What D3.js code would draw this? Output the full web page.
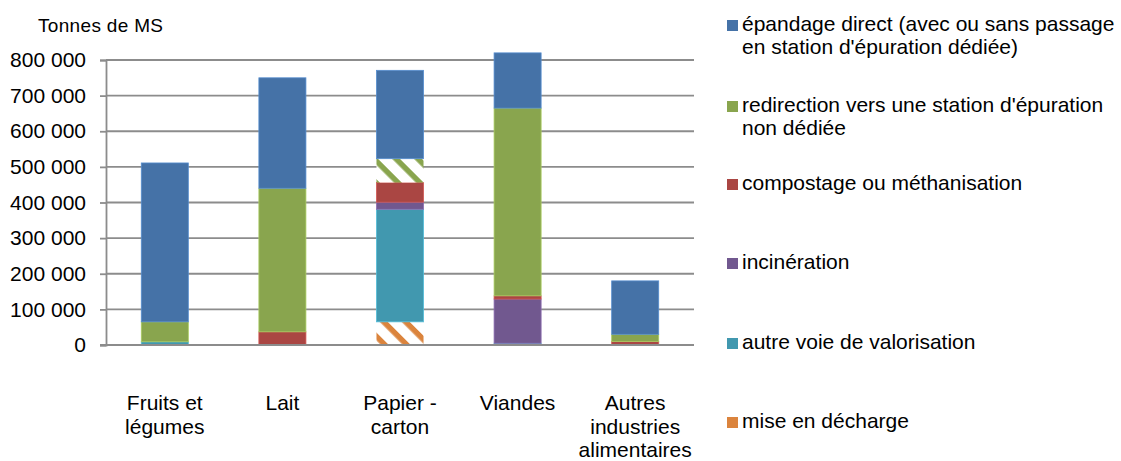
<!DOCTYPE html>
<html><head><meta charset="utf-8">
<script src="https://cdn.jsdelivr.net/npm/d3@7"></script>
<style>
body{margin:0;background:#fff;}
svg text{font-family:"Liberation Sans",Arial,sans-serif;fill:#000;}
</style></head>
<body>
<svg id="chart" width="1121" height="461"></svg>
<script>
const categories = ["Fruits et légumes", "Lait", "Papier - carton", "Viandes", "Autres industries alimentaires"];
const categoryLabels = [["Fruits et", "légumes"], ["Lait"], ["Papier -", "carton"], ["Viandes"], ["Autres", "industries", "alimentaires"]];
// Stack order, bottom to top
const seriesNames = ["mise en décharge", "autre voie de valorisation", "incinération", "compostage ou méthanisation", "redirection vers une station d'épuration non dédiée", "épandage direct (avec ou sans passage en station d'épuration dédiée)"];
const miseEnDecharge = [0, 0, 65000, 0, 0];
const autreVoie = [9000, 0, 316000, 5000, 0];
const incineration = [0, 0, 20000, 124000, 0];
const compostage = [0, 37000, 55000, 9000, 10000];
const redirection = [56000, 403000, 67000, 527000, 20000];
const epandage = [446000, 310000, 248000, 155000, 150000];
const seriesValues = [miseEnDecharge, autreVoie, incineration, compostage, redirection, epandage];
// Hatched (uncertain) cells: [series index, category index]
const hatchedCells = [[0, 2], [4, 2]];
const yTicks = [0, 100000, 200000, 300000, 400000, 500000, 600000, 700000, 800000];
const legendLines = [
  ["épandage direct (avec ou sans passage", "en station d'épuration dédiée)"],
  ["redirection vers une station d'épuration", "non dédiée"],
  ["compostage ou méthanisation"],
  ["incinération"],
  ["autre voie de valorisation"],
  ["mise en décharge"]
];
const colors = ["#DB843D", "#4198AF", "#71588F", "#AA4643", "#89A54E", "#4572A7"];

const svg = d3.select("#chart");
const x0 = 106, x1 = 694, yTop = 60, yBot = 345;
const x = d3.scaleBand().domain(categories).range([x0, x1]).paddingInner(0.6).paddingOuter(0.3);
const y = d3.scaleLinear().domain([0, 800000]).range([yBot, yTop]);

// patterns
const defs = svg.append("defs");
colors.forEach((c, i) => {
  const p = defs.append("pattern").attr("id", "hatch" + i).attr("patternUnits", "userSpaceOnUse")
    .attr("width", 15.5).attr("height", 15.5).attr("patternTransform", "rotate(45)");
  p.append("rect").attr("width", 15.5).attr("height", 15.5).attr("fill", "#fff");
  p.append("rect").attr("x", 0).attr("y", 0).attr("width", 15.5).attr("height", 5.5).attr("fill", c);
});

// gridlines
svg.append("g").selectAll("line").data(yTicks).join("line")
  .attr("x1", x0).attr("x2", x1).attr("y1", d => y(d)).attr("y2", d => y(d))
  .attr("stroke", "#8c8c8c").attr("stroke-width", 1.8);

// y axis
const yAxis = d3.axisLeft(y).tickValues(yTicks).tickSize(6).tickPadding(14)
  .tickFormat(d => d3.format(",")(d).replace(/,/g, " "));
const ga = svg.append("g").attr("transform", `translate(${x0},0)`).call(yAxis);
ga.select(".domain").attr("stroke", "#8c8c8c").attr("stroke-width", 1.8);
ga.selectAll(".tick line").attr("stroke", "#8c8c8c").attr("stroke-width", 1.8);
ga.selectAll(".tick text").attr("font-size", 21).attr("fill", "#000").attr("font-family", "Liberation Sans, Arial, sans-serif");

// stacks
const table = categories.map((c, j) => {
  const o = {cat: c};
  seriesNames.forEach((s, i) => o[s] = seriesValues[i][j]);
  return o;
});
const stacked = d3.stack().keys(seriesNames)(table);
const isHatched = (i, j) => hatchedCells.some(h => h[0] === i && h[1] === j);
stacked.forEach((layer, i) => {
  svg.append("g").selectAll("rect").data(layer).join("rect")
    .attr("x", d => x(d.data.cat))
    .attr("width", x.bandwidth())
    .attr("y", d => y(d[1]))
    .attr("height", d => Math.max(0, y(d[0]) - y(d[1])))
    .attr("fill", (d, j) => isHatched(i, j) ? `url(#hatch${i})` : colors[i])
    .attr("stroke", (d, j) => isHatched(i, j) ? "none" : d3.color(colors[i]).brighter(0.6))
    .attr("stroke-width", 0.8)
    .attr("display", d => d[1] - d[0] > 0 ? null : "none");
});

// x axis line
svg.append("line").attr("x1", x0 - 6).attr("x2", x1).attr("y1", yBot).attr("y2", yBot)
  .attr("stroke", "#8c8c8c").attr("stroke-width", 1.8);

// x labels
categories.forEach((c, j) => {
  const t = svg.append("text").attr("text-anchor", "middle").attr("font-size", 21)
    .attr("x", x(c) + x.bandwidth() / 2).attr("y", 410);
  categoryLabels[j].forEach((l, k) => t.append("tspan").attr("x", x(c) + x.bandwidth() / 2).attr("dy", k === 0 ? 0 : 23.5).text(l));
});

// title
svg.append("text").attr("x", 38).attr("y", 32).attr("font-size", 19).attr("textLength", 125).text("Tonnes de MS");

// legend
const legendBaselines = [31, 112, 190, 269, 349, 428];
legendLines.forEach((lines, k) => {
  const si = seriesNames.length - 1 - k;
  const by = legendBaselines[k];
  svg.append("rect").attr("x", 727).attr("y", by - 11).attr("width", 11).attr("height", 11).attr("fill", colors[si]);
  const t = svg.append("text").attr("font-size", 21).attr("x", 742).attr("y", by);
  lines.forEach((l, m) => t.append("tspan").attr("x", 742).attr("dy", m === 0 ? 0 : 23.3).text(l));
});
</script>
</body></html>
